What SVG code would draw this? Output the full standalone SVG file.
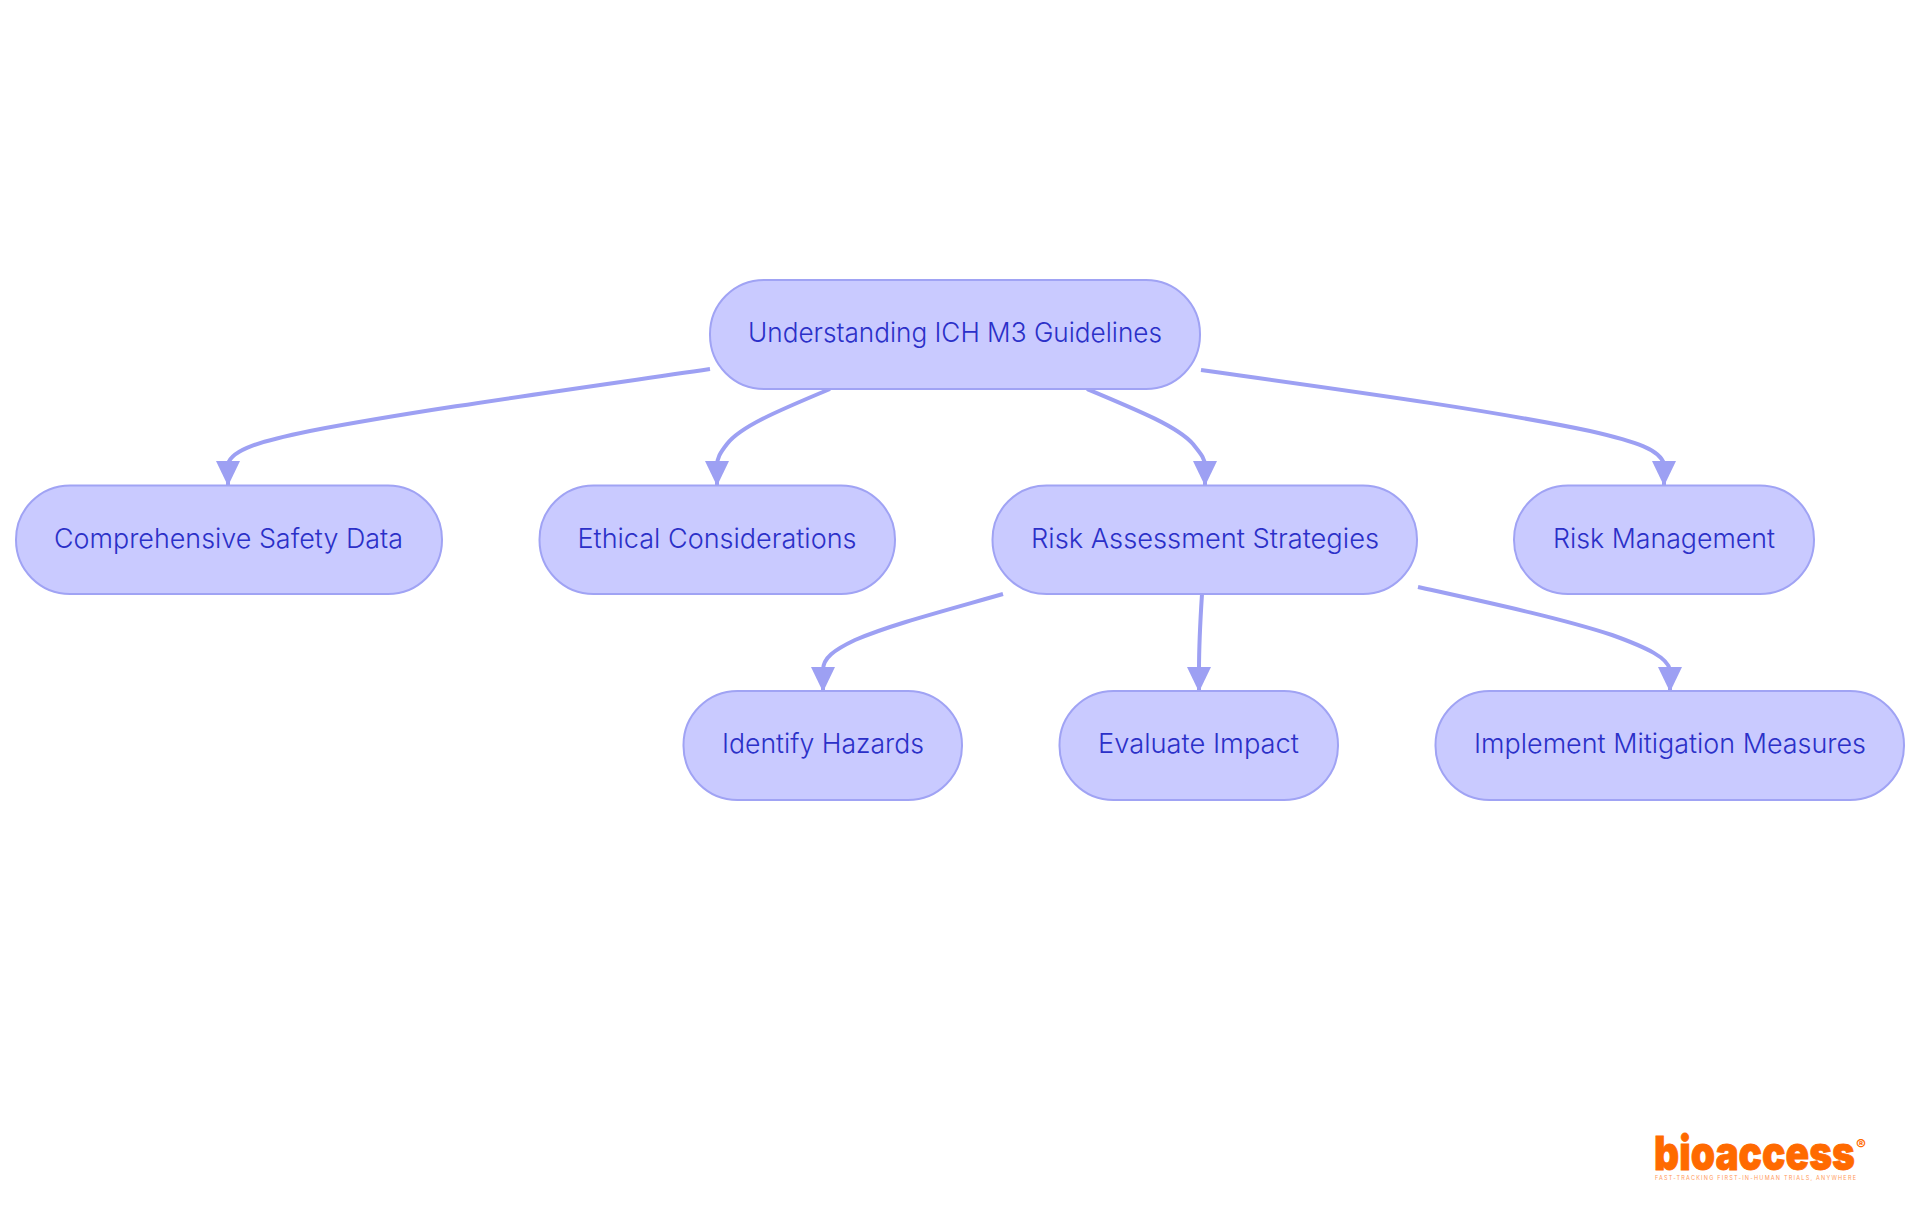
<svg xmlns="http://www.w3.org/2000/svg" width="1920" height="1215" viewBox="0 0 1920 1215">
<style>
.n rect{fill:#c9caff;stroke:#a0a3f4;stroke-width:2}
.n text{font-family:"Inter","Liberation Sans",sans-serif;font-size:27.500px;font-weight:300;fill:#2b30c8;text-anchor:middle}
.e{fill:none;stroke:#9da0f3;stroke-width:4}
</style>
<defs><marker id="a" markerUnits="userSpaceOnUse" markerWidth="25" markerHeight="25" refX="24" refY="12.500" orient="auto"><path d="M0 0.500L25 12.500L0 24.500z" fill="#9da0f3"/></marker></defs>
<rect width="1920" height="1215" fill="#fff"/>
<g id="connectors">
<path class="e" marker-end="url(#a)" d="M710 369C560 391 420 410 310 431C262 441 232 449 228 464L228 485"/>
<path class="e" marker-end="url(#a)" d="M830 389C775 412 740 427 727 444C720 453 717 458 717 466L717 485"/>
<path class="e" marker-end="url(#a)" d="M1087 389C1142 412 1178 427 1193 444C1200 453 1205 458 1205 466L1205 485"/>
<path class="e" marker-end="url(#a)" d="M1201 370C1350 391 1490 410 1590 431C1638 442 1660 450 1664 464L1664 485"/>
<path class="e" marker-end="url(#a)" d="M1003 594C940 612 890 625 855 640C834 650 823 658 823 670L823 691"/>
<path class="e" marker-end="url(#a)" d="M1202 594C1200 625 1199 650 1199 670L1199 691"/>
<path class="e" marker-end="url(#a)" d="M1418 587C1490 603 1560 618 1612 635C1648 648 1668 658 1670 670L1670 691"/>
</g>
<g id="n0" class="n"><rect x="710" y="280" width="490" height="109" rx="54" ry="54"/><text x="955" y="342" textLength="414" lengthAdjust="spacingAndGlyphs">Understanding ICH M3 Guidelines</text></g>
<g id="n1" class="n"><rect x="16" y="485.500" width="426" height="108.500" rx="54" ry="54"/><text x="228.500" y="548" textLength="349" lengthAdjust="spacingAndGlyphs">Comprehensive Safety Data</text></g>
<g id="n2" class="n"><rect x="539.500" y="485.500" width="355.500" height="108.500" rx="54" ry="54"/><text x="717" y="548" textLength="279" lengthAdjust="spacingAndGlyphs">Ethical Considerations</text></g>
<g id="n3" class="n"><rect x="992.500" y="485.500" width="424.500" height="108.500" rx="54" ry="54"/><text x="1205" y="548" textLength="348" lengthAdjust="spacingAndGlyphs">Risk Assessment Strategies</text></g>
<g id="n4" class="n"><rect x="1514" y="485.500" width="300" height="108.500" rx="54" ry="54"/><text x="1664" y="548" textLength="222" lengthAdjust="spacingAndGlyphs">Risk Management</text></g>
<g id="n5" class="n"><rect x="683.500" y="691" width="278.500" height="109" rx="54" ry="54"/><text x="823" y="753" textLength="202" lengthAdjust="spacingAndGlyphs">Identify Hazards</text></g>
<g id="n6" class="n"><rect x="1059.500" y="691" width="278.500" height="109" rx="54" ry="54"/><text x="1198.500" y="753" textLength="201" lengthAdjust="spacingAndGlyphs">Evaluate Impact</text></g>
<g id="n7" class="n"><rect x="1435.500" y="691" width="468.500" height="109" rx="54" ry="54"/><text x="1670" y="753" textLength="392" lengthAdjust="spacingAndGlyphs">Implement Mitigation Measures</text></g>
<g id="logo">
<text x="1654" y="1170" font-family="Inter,'Liberation Sans',sans-serif" font-size="47" font-weight="900" fill="#ff6a00" stroke="#ff6a00" stroke-width="0.800" textLength="201" lengthAdjust="spacingAndGlyphs">bioaccess</text>
<text x="1856" y="1150" font-family="Inter,'Liberation Sans',sans-serif" font-size="15" font-weight="700" fill="#ff6a00">®</text>
<text x="1655" y="1180" font-family="Inter,'Liberation Sans',sans-serif" font-size="5.500" font-weight="400" fill="#ff9a5a" textLength="201">FAST-TRACKING FIRST-IN-HUMAN TRIALS, ANYWHERE</text>
</g>
</svg>
